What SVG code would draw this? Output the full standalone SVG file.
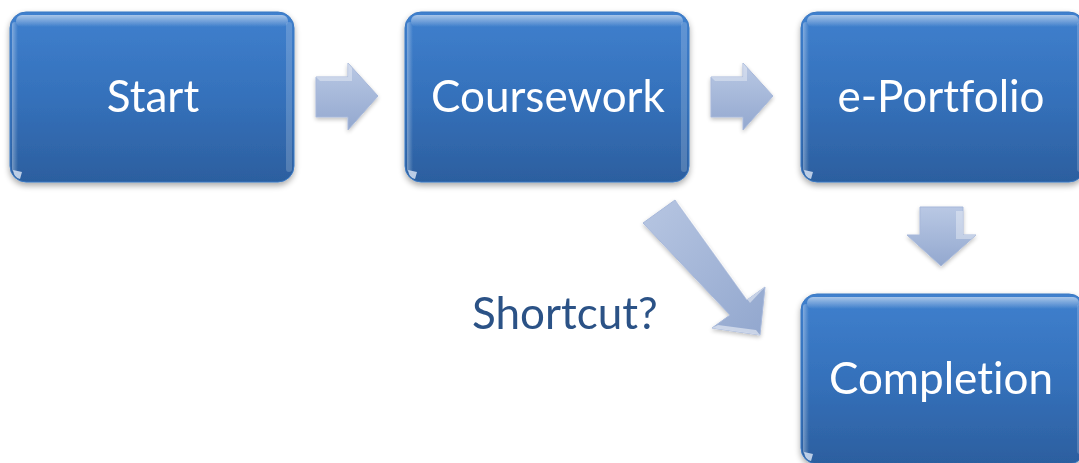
<svg xmlns="http://www.w3.org/2000/svg" width="1079" height="463" viewBox="0 0 1079 463">
  <defs>
    <linearGradient id="boxFill" x1="0" y1="0" x2="0" y2="1">
      <stop offset="0" stop-color="#3f80ce"/>
      <stop offset="0.5" stop-color="#3571bb"/>
      <stop offset="1" stop-color="#2c5f9f"/>
    </linearGradient>
    <linearGradient id="topGloss" x1="0" y1="0" x2="0" y2="1">
      <stop offset="0" stop-color="#ffffff" stop-opacity="0.55"/>
      <stop offset="1" stop-color="#ffffff" stop-opacity="0"/>
    </linearGradient>
    <linearGradient id="sideGloss" x1="0" y1="0" x2="1" y2="0">
      <stop offset="0" stop-color="#ffffff" stop-opacity="0.35"/>
      <stop offset="1" stop-color="#ffffff" stop-opacity="0"/>
    </linearGradient>
    <linearGradient id="arrowFill" x1="0" y1="0" x2="0" y2="1">
      <stop offset="0" stop-color="#b9c8e4"/>
      <stop offset="1" stop-color="#93a8cf"/>
    </linearGradient>
    <linearGradient id="arrowFillDiag" x1="0" y1="0" x2="1" y2="1">
      <stop offset="0" stop-color="#b7c6e2"/>
      <stop offset="1" stop-color="#92a7ce"/>
    </linearGradient>
    <filter id="shadow" x="-10%" y="-10%" width="120%" height="125%">
      <feGaussianBlur in="SourceAlpha" stdDeviation="3"/>
      <feOffset dx="0" dy="3" result="b"/>
      <feComponentTransfer><feFuncA type="linear" slope="0.35"/></feComponentTransfer>
      <feMerge><feMergeNode/><feMergeNode in="SourceGraphic"/></feMerge>
    </filter>
    <filter id="arrowShadow" x="-20%" y="-20%" width="140%" height="140%">
      <feGaussianBlur in="SourceAlpha" stdDeviation="2"/>
      <feOffset dx="0" dy="2"/>
      <feComponentTransfer><feFuncA type="linear" slope="0.25"/></feComponentTransfer>
      <feMerge><feMergeNode/><feMergeNode in="SourceGraphic"/></feMerge>
    </filter>
    <!-- glossy rounded tile, 284 x 170 -->
    <g id="tile">
      <rect x="0" y="0" width="284" height="170" rx="16" fill="url(#boxFill)" stroke="#3a78c2" stroke-width="1"/>
      <rect x="6" y="3" width="272" height="12" rx="6" fill="url(#topGloss)"/>
      <rect x="2" y="10" width="6" height="150" rx="3" fill="url(#sideGloss)"/>
      <rect x="276" y="10" width="6" height="150" rx="3" fill="#ffffff" opacity="0.18"/>
      <path d="M3 158 L12 160 L10 167 Q4 166 3 158 Z" fill="#dfe9f7" opacity="0.8"/>
    </g>
  </defs>
  <style>
    .label { font-family: Lato, "Open Sans", "Liberation Sans", sans-serif; font-size: 44px; fill: #ffffff; text-anchor: middle; font-variant-ligatures: none; }
    .note { font-family: Lato, "Open Sans", "Liberation Sans", sans-serif; font-size: 44px; fill: #2b5286; font-variant-ligatures: none; }
    .arrow { stroke: #a7b8da; stroke-width: 1; }
  </style>

  <rect width="1079" height="463" fill="#ffffff"/>

  <g id="node-start" filter="url(#shadow)">
    <use href="#tile" x="10" y="12"/>
    <text class="label" x="153" y="112">Start</text>
  </g>

  <g id="node-coursework" filter="url(#shadow)">
    <use href="#tile" x="405" y="12"/>
    <text class="label" x="548" y="112">Coursework</text>
  </g>

  <g id="node-eportfolio" filter="url(#shadow)">
    <use href="#tile" x="801" y="12"/>
    <text class="label" x="941" y="112">e-Portfolio</text>
  </g>

  <g id="node-completion" filter="url(#shadow)">
    <use href="#tile" x="801" y="294"/>
    <text class="label" x="941" y="394">Completion</text>
  </g>

  <g id="connectors" filter="url(#arrowShadow)">
    <!-- Start to Coursework -->
    <path class="arrow" d="M316 77 H348 V63 L378 96 L348 130 V117 H316 Z" fill="url(#arrowFill)"/>
    <path d="M316 77 H348 V63 L352 68 V81 H320 Z" fill="#ffffff" opacity="0.35"/>
    <!-- Coursework to e-Portfolio -->
    <path class="arrow" d="M711 77 H743 V63 L773 96 L743 130 V117 H711 Z" fill="url(#arrowFill)"/>
    <path d="M711 77 H743 V63 L747 68 V81 H715 Z" fill="#ffffff" opacity="0.35"/>
    <!-- e-Portfolio to Completion -->
    <path class="arrow" d="M920 207 H963 V235 H976 L941 266 L907 235 H920 Z" fill="url(#arrowFill)"/>
    <path d="M956 211 H963 V235 H976 L971 239 H956 Z" fill="#ffffff" opacity="0.35"/>
    <!-- Coursework to Completion, optional shortcut -->
    <path class="arrow" d="M643 223 L675 200 L747 300 L765 287 L760 335 L712 328 L730 315 Z" fill="url(#arrowFillDiag)"/>
    <path d="M675 200 L679 204 L750 303 L765 287 L747 300 Z" fill="#ffffff" opacity="0.45"/>
    <path d="M712 328 L760 335 L756 330 L718 325 Z" fill="#ffffff" opacity="0.5"/>
  </g>

  <text id="shortcut-label" class="note" x="472" y="329">Shortcut?</text>
</svg>
